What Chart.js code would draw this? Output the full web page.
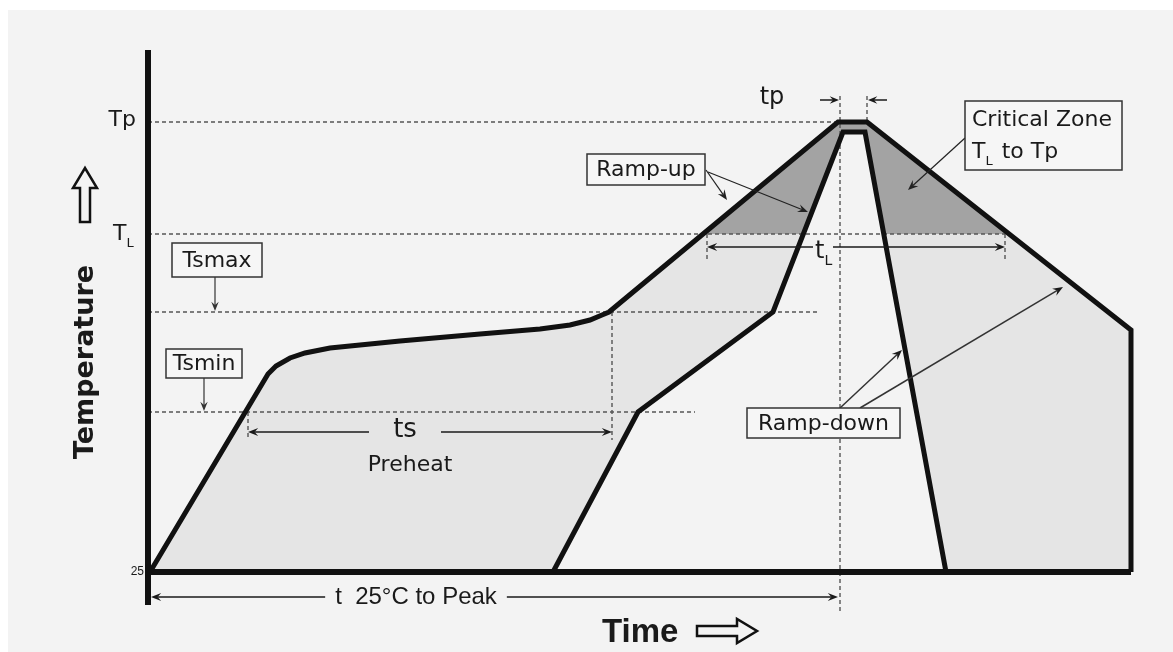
<!DOCTYPE html>
<html>
<head>
<meta charset="utf-8">
<script src="https://cdn.jsdelivr.net/npm/chart.js@4"></script>
<style>
  html, body { margin: 0; padding: 0; background: #fff; }
</style>
</head>
<body>
<canvas id="profileChart" width="1173" height="652"></canvas>
<script>
// temperature levels of the reflow profile
const tBase = 25, tsMin = 105, tsMax = 155, tLiq = 194, tPeak = 250;

// upper (max) profile
const maxTime = [0.2, 12.0, 12.8, 14.2, 15.7, 18.2, 25.2, 33.2, 39.2, 42.2, 44.2, 45.4, 46.1, 69.0, 71.9, 98.3, 98.3];
const maxTemp = [25, 124, 128, 132, 134.5, 137, 140.5, 144, 146.5, 148.5, 151, 153.5, 155, 250, 250, 146, 25];

// lower (min) profile
const minTime = [40.5, 49.0, 62.5, 69.5, 71.7, 79.8];
const minTemp = [25, 105, 155, 245, 245, 25];

// time markers
const timeStart = 0.3, soakStart = 10.0, soakEnd = 46.4;
const liqStart = 55.9, liqEnd = 85.7, peakStart = 69.2, peakEnd = 71.9, endTime = 98.3;

const bg = "#f3f3f3";
const pts = (xs, ys) => xs.map((v, i) => ({ x: v, y: ys[i] }));
const hLine = (y, x0, x1) => [{ x: x0, y: y }, { x: x1, y: y }];
const vLine = (x, y0, y1) => [{ x: x, y: y0 }, { x: x, y: y1 }];

const upper = pts(maxTime, maxTemp);
const lower = pts(minTime, minTemp);

const solid = (data, width) => ({
  data, borderColor: "#111", borderWidth: width, fill: false,
  pointRadius: 0, borderJoinStyle: "miter", clip: false, order: 0
});
const dotted = (data) => ({
  data, borderColor: "#555", borderWidth: 1.4, borderDash: [4, 3], fill: false,
  pointRadius: 0, clip: false, order: 1
});
const area = (data, fill, color, order) => ({
  data, borderWidth: 0, borderColor: "transparent", backgroundColor: color,
  fill, pointRadius: 0, order
});

const datasets = [
  solid(upper, 5),
  solid(lower, 5),
  solid(vLine(0, 8.5, 286), 6),
  solid(hLine(tBase, 0, endTime), 6),

  dotted(hLine(tPeak, 0, peakStart)),
  dotted(hLine(tLiq, 0, liqEnd)),
  dotted(hLine(tsMax, 0, 67.2)),
  dotted(hLine(tsMin, 0, 54.7)),
  dotted(vLine(soakEnd, tsMax, 91)),
  dotted(vLine(peakStart, 263, 5)),
  dotted(vLine(peakEnd, 263, tPeak)),
  dotted(vLine(liqStart, tLiq, 181)),
  dotted(vLine(liqEnd, tLiq, 181)),
  dotted(vLine(soakStart, tsMin, 91)),

  area(lower, { target: { value: tLiq }, above: bg, below: "rgba(0,0,0,0)" }, bg, 2),
  area(upper, { target: { value: tLiq }, above: "#a3a3a3", below: "rgba(0,0,0,0)" }, "#a3a3a3", 3),
  area(lower, { value: tBase }, bg, 4),
  area(upper, { value: tBase }, "#e5e5e5", 5)
];

const LABEL = "22px 'DejaVu Sans'";

function arrow(ctx, x1, y1, x2, y2, head) {
  const a = Math.atan2(y2 - y1, x2 - x1);
  ctx.beginPath();
  ctx.moveTo(x1, y1);
  ctx.lineTo(x2 - Math.cos(a) * head * 0.6, y2 - Math.sin(a) * head * 0.6);
  ctx.stroke();
  ctx.beginPath();
  ctx.moveTo(x2, y2);
  ctx.lineTo(x2 - head * Math.cos(a - 0.38), y2 - head * Math.sin(a - 0.38));
  ctx.lineTo(x2 - head * 0.6 * Math.cos(a), y2 - head * 0.6 * Math.sin(a));
  ctx.lineTo(x2 - head * Math.cos(a + 0.38), y2 - head * Math.sin(a + 0.38));
  ctx.closePath();
  ctx.fill();
}

function hollowArrow(ctx, x0, cy, len, angle) {
  ctx.save();
  ctx.translate(x0, cy);
  ctx.rotate(angle);
  ctx.beginPath();
  ctx.moveTo(0, -5);
  ctx.lineTo(len - 20, -5);
  ctx.lineTo(len - 20, -12);
  ctx.lineTo(len, 0);
  ctx.lineTo(len - 20, 12);
  ctx.lineTo(len - 20, 5);
  ctx.lineTo(0, 5);
  ctx.closePath();
  ctx.fillStyle = bg;
  ctx.fill();
  ctx.lineWidth = 2.5;
  ctx.strokeStyle = "#111";
  ctx.stroke();
  ctx.restore();
}

// dimension line with arrowheads at both ends and a gap for the label
function dimension(ctx, x0, x1, y, gapL, gapR) {
  ctx.lineWidth = 1.5;
  arrow(ctx, gapL, y, x0, y, 11);
  arrow(ctx, gapR, y, x1, y, 11);
}

function box(ctx, x0, y0, x1, y1) {
  ctx.fillStyle = "#f6f6f6";
  ctx.fillRect(x0, y0, x1 - x0, y1 - y0);
  ctx.lineWidth = 1.5;
  ctx.strokeStyle = "#333";
  ctx.strokeRect(x0, y0, x1 - x0, y1 - y0);
}

// text with a subscript "L"
function subText(ctx, main, x, y, size) {
  ctx.font = size + "px 'DejaVu Sans'";
  ctx.textAlign = "left";
  ctx.textBaseline = "alphabetic";
  ctx.fillText(main, x, y);
  const w = ctx.measureText(main).width;
  ctx.font = Math.round(size * 0.6) + "px 'DejaVu Sans'";
  ctx.fillText("L", x + w, y + size * 0.3);
  return w + ctx.measureText("L").width;
}

const background = {
  id: "background",
  beforeDraw(chart) {
    const ctx = chart.ctx;
    ctx.save();
    ctx.fillStyle = "#fff";
    ctx.fillRect(0, 0, chart.width, chart.height);
    ctx.fillStyle = bg;
    ctx.fillRect(8, 10, chart.width - 8, chart.height - 10);
    ctx.restore();
  }
};

const annotations = {
  id: "annotations",
  afterDraw(chart) {
    const ctx = chart.ctx;
    const X = v => chart.scales.x.getPixelForValue(v);
    const Y = v => chart.scales.y.getPixelForValue(v);
    ctx.save();
    ctx.fillStyle = "#1a1a1a";
    ctx.strokeStyle = "#1a1a1a";

    // y-axis labels
    ctx.font = LABEL;
    ctx.textAlign = "right";
    ctx.textBaseline = "middle";
    ctx.fillText("Tp", X(0) - 12, Y(tPeak) - 2);
    subText(ctx, "T", X(0) - 35, Y(tLiq) + 6, 22);
    ctx.font = "12px 'Liberation Sans Narrow', 'Liberation Sans'";
    ctx.textAlign = "right";
    ctx.textBaseline = "middle";
    ctx.fillStyle = "#1a1a1a";
    ctx.fillText("25", X(0) - 4, Y(tBase));

    // axis titles
    ctx.save();
    ctx.translate(86, 362);
    ctx.rotate(-Math.PI / 2);
    ctx.font = "bold 27px 'DejaVu Sans'";
    ctx.textAlign = "center";
    ctx.textBaseline = "middle";
    ctx.fillText("Temperature", 0, 0);
    ctx.restore();
    hollowArrow(ctx, 85, 222, 54, -Math.PI / 2);

    ctx.font = "bold 33px 'Liberation Sans'";
    ctx.textAlign = "left";
    ctx.textBaseline = "alphabetic";
    ctx.fillStyle = "#1a1a1a";
    ctx.fillText("Time", 602, 642);
    hollowArrow(ctx, 697, 631, 60, 0);

    ctx.fillStyle = "#1a1a1a";
    ctx.strokeStyle = "#1a1a1a";

    // t 25°C to Peak
    const yT = Y(12.5);
    ctx.font = "24px 'Liberation Sans'";
    ctx.textAlign = "center";
    ctx.textBaseline = "middle";
    ctx.fillText("t  25\u00b0C to Peak", 416, yT);
    const tw = ctx.measureText("t  25\u00b0C to Peak").width;
    dimension(ctx, X(timeStart), X(peakStart) - 2, yT, 416 - tw / 2 - 10, 416 + tw / 2 + 10);

    // ts / Preheat
    const yS = Y(95);
    ctx.font = "26px 'DejaVu Sans'";
    ctx.textAlign = "center";
    ctx.fillText("ts", X(25.7), yS - 2);
    dimension(ctx, X(soakStart), X(soakEnd), yS, X(25.7) - 36, X(25.7) + 36);
    ctx.font = LABEL;
    ctx.fillText("Preheat", X(26.2), Y(78.5));

    // tL
    const yL = Y(187.5);
    ctx.lineWidth = 1.5;
    arrow(ctx, X(66.5), yL, X(liqStart), yL, 11);
    arrow(ctx, X(68.5), yL, X(liqEnd), yL, 11);
    subText(ctx, "t", X(66.7), Y(182), 24);

    // tp
    const yP = Y(261);
    ctx.lineWidth = 1.5;
    arrow(ctx, X(peakStart) - 20, yP, X(peakStart) - 1, yP, 10);
    arrow(ctx, X(peakEnd) + 20, yP, X(peakEnd) + 1, yP, 10);
    ctx.font = "24px 'DejaVu Sans'";
    ctx.textAlign = "center";
    ctx.textBaseline = "middle";
    ctx.fillText("tp", X(62.4), yP - 2);

    // callout boxes
    const label = (text, x0, y0, x1, y1) => {
      box(ctx, X(x0), Y(y0), X(x1), Y(y1));
      ctx.fillStyle = "#1a1a1a";
      ctx.font = LABEL;
      ctx.textAlign = "center";
      ctx.textBaseline = "middle";
      ctx.fillText(text, (X(x0) + X(x1)) / 2, (Y(y0) + Y(y1)) / 2 + 1);
    };
    ctx.lineWidth = 1.2;
    ctx.strokeStyle = "#333";
    ctx.fillStyle = "#333";
    arrow(ctx, X(6.7), Y(172.5), X(6.7), Y(tsMax) - 1, 10);
    arrow(ctx, X(5.6), Y(122), X(5.6), Y(tsMin) - 1, 10);
    label("Tsmax", 2.4, 189.5, 11.4, 172.5);
    label("Tsmin", 1.8, 136.5, 9.4, 122);

    ctx.lineWidth = 1.2;
    ctx.strokeStyle = "#222";
    ctx.fillStyle = "#222";
    arrow(ctx, X(55.8), Y(226), X(57.9), Y(211), 11);
    arrow(ctx, X(56.0), Y(225), X(66.0), Y(205), 11);
    label("Ramp-up", 43.9, 234, 55.7, 218.5);

    arrow(ctx, X(69.2), Y(107), X(75.4), Y(136), 11);
    arrow(ctx, X(71.2), Y(107), X(91.5), Y(167.5), 11);
    label("Ramp-down", 59.9, 107, 75.2, 92);

    ctx.lineWidth = 1.2;
    ctx.strokeStyle = "#222";
    ctx.fillStyle = "#222";
    arrow(ctx, X(81.7), Y(242), X(76.0), Y(216), 11);
    box(ctx, X(81.7), Y(260.5), X(97.4), Y(226));
    ctx.fillStyle = "#1a1a1a";
    ctx.font = LABEL;
    ctx.textAlign = "left";
    ctx.textBaseline = "alphabetic";
    ctx.fillText("Critical Zone", X(82.4), Y(248));
    const w = subText(ctx, "T", X(82.4), Y(232), 22);
    ctx.font = LABEL;
    ctx.fillText(" to Tp", X(82.4) + w + 2, Y(232));

    ctx.restore();
  }
};

new Chart(document.getElementById("profileChart"), {
  type: "line",
  data: { datasets },
  options: {
    responsive: false,
    devicePixelRatio: 1,
    animation: false,
    parsing: false,
    layout: { padding: { left: 148, right: 25, top: 50, bottom: 40 } },
    scales: {
      x: { type: "linear", min: 0, max: 100, display: false },
      y: { type: "linear", min: 5, max: 286, display: false }
    },
    plugins: {
      legend: { display: false },
      tooltip: { enabled: false }
    }
  },
  plugins: [background, annotations]
});
</script>
</body>
</html>
